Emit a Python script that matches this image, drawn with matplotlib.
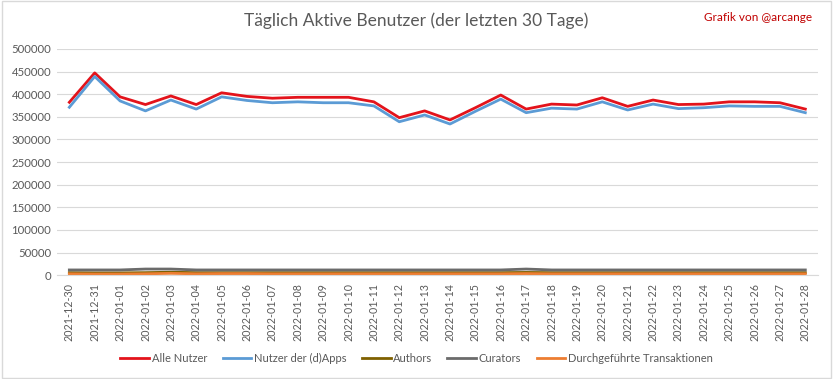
import matplotlib
matplotlib.use("Agg")
import matplotlib.pyplot as plt
import pandas as pd

dates = [d.strftime("%Y-%m-%d") for d in pd.date_range("2021-12-30", "2022-01-28")]

alle_nutzer = [382000, 447000, 394000, 377000, 396000, 377000, 403000, 395000, 391000, 393000,
               393000, 393000, 383000, 348000, 363000, 343000, 370000, 398000, 367000, 378000,
               376000, 392000, 373000, 387000, 377000, 378000, 383000, 383000, 381000, 367000]
dapps = [371000, 439000, 385000, 363000, 387000, 367000, 394000, 386000, 381000, 383000,
         381000, 381000, 374000, 339000, 354000, 334000, 362000, 389000, 359000, 369000,
         367000, 383000, 365000, 378000, 368000, 370000, 374000, 373000, 373000, 359000]
authors = [5500, 5000, 5000, 5500, 6500, 5500, 5500, 5500, 5500, 5500,
           5500, 5500, 5500, 5500, 5500, 5500, 5500, 5500, 6000, 5500,
           5500, 5500, 5500, 5500, 5500, 5500, 5500, 5500, 5500, 5500]
curators = [11500, 11500, 11500, 13500, 13500, 11500, 11500, 11500, 11500, 11500,
            11500, 11500, 11500, 11500, 11500, 11500, 11500, 11500, 13500, 11500,
            11500, 11500, 11500, 11500, 11500, 11500, 11500, 11500, 11500, 11500]
transaktionen = [3000, 2500, 2500, 3000, 4000, 3000, 3500, 3500, 3000, 3000,
                 3000, 3000, 3000, 3000, 3000, 3000, 3000, 3000, 3500, 3000,
                 3000, 3000, 3000, 3000, 3000, 3000, 3000, 3000, 3000, 3000]

series = [
    ("Alle Nutzer", alle_nutzer, "#E3131B"),
    ("Nutzer der (d)Apps", dapps, "#5B9BD5"),
    ("Authors", authors, "#7F6000"),
    ("Curators", curators, "#6B6B6B"),
    ("Durchgeführte Transaktionen", transaktionen, "#ED7D31"),
]

plt.rcParams['font.family'] = ['Lato', 'DejaVu Sans']

fig = plt.figure(figsize=(8.33, 3.79), dpi=100)
ax = fig.add_axes([0.068, 0.274, 0.914, 0.597])

x = list(range(len(dates)))
for name, vals, col in series:
    ax.plot(x, vals, color=col, lw=2, label=name, solid_joinstyle="round")

ax.set_xlim(-0.5, len(dates) - 0.5)
ax.set_ylim(0, 500000)
ax.set_yticks(range(0, 500001, 50000))
ax.set_yticklabels([str(v) for v in range(0, 500001, 50000)], fontsize=8.2, color="#595959")
ax.set_xticks(x)
ax.set_xticklabels(dates, rotation=90, fontsize=7.7, color="#595959")
ax.tick_params(axis="both", length=0, pad=4)
ax.tick_params(axis="x", pad=6)
ax.grid(axis="y", color="#D9D9D9", lw=0.8)
ax.set_axisbelow(True)
for s in ["top", "right", "left"]:
    ax.spines[s].set_visible(False)
ax.spines["bottom"].set_color("#D9D9D9")

fig.text(0.5, 0.945, "Täglich Aktive Benutzer (der letzten 30 Tage)", ha="center", va="center",
         fontsize=12.5, color="#595959")
fig.text(0.975, 0.955, "Grafik von @arcange", ha="right", va="center", fontsize=8.5, color="#C00000")

leg = fig.legend(loc="center", bbox_to_anchor=(0.5, 0.055), ncol=5, frameon=False,
                 fontsize=8, handlelength=2.6, columnspacing=1.4, handletextpad=0.2)
for t in leg.get_texts():
    t.set_color("#595959")

fig.patches.append(plt.Rectangle((0.002, 0.003), 0.996, 0.994, transform=fig.transFigure,
                                 fill=False, edgecolor="#D9D9D9", lw=1))

fig.savefig("out.png", dpi=100)
